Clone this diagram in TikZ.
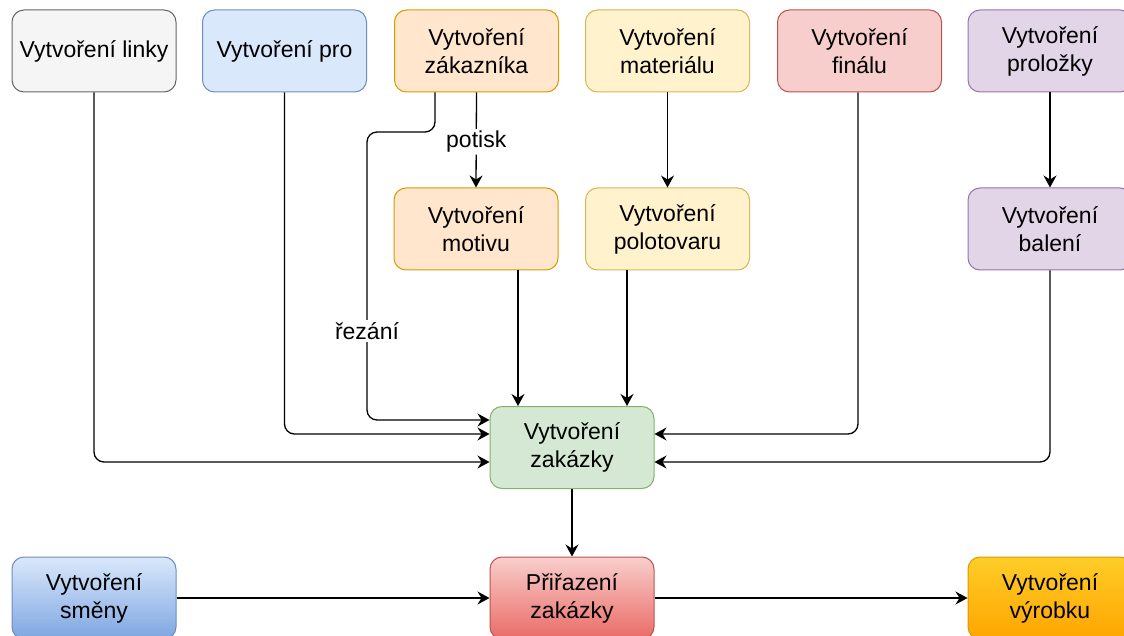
\documentclass[tikz,border=0pt]{standalone}
\usepackage{fontspec}
\setmainfont{Liberation Sans}
\usetikzlibrary{arrows.meta}
\definecolor{grayF}{HTML}{F5F5F5}\definecolor{grayS}{HTML}{666666}
\definecolor{blueF}{HTML}{DAE8FC}\definecolor{blueS}{HTML}{6C8EBF}\definecolor{blueB}{HTML}{7EA6E0}
\definecolor{orF}{HTML}{FFE6CC}\definecolor{orS}{HTML}{D79B00}
\definecolor{yeF}{HTML}{FFF2CC}\definecolor{yeS}{HTML}{D6B656}
\definecolor{reF}{HTML}{F8CECC}\definecolor{reS}{HTML}{B85450}\definecolor{reB}{HTML}{EA6B66}
\definecolor{puF}{HTML}{E1D5E7}\definecolor{puS}{HTML}{9673A6}
\definecolor{grF}{HTML}{D5E8D4}\definecolor{grS}{HTML}{82B366}
\definecolor{goT}{HTML}{FFCD28}\definecolor{goB}{HTML}{FFA500}
\begin{document}
\begin{tikzpicture}[x=1pt,y=-1pt,
  box/.style={draw, rounded corners=12pt, line width=1pt, minimum width=164pt, minimum height=82pt, align=center, inner sep=0pt, font=\fontsize{23}{28}\selectfont, text=black},
  arr/.style={-{Stealth[length=12pt,width=13pt,inset=4pt]}, line width=1.3pt, rounded corners=10pt, draw=black},
  lbl/.style={fill=white, inner sep=2pt, font=\fontsize{23}{28}\selectfont, text=black}]
\useasboundingbox (0,0) rectangle (1124,636);
% top row
\node[box, fill=grayF, draw=grayS] (linky) at (94,51) {Vytvoření linky};
\node[box, fill=blueF, draw=blueS] (pro) at (284.5,51) {Vytvoření pro};
\node[box, fill=orF, draw=orS] (zak) at (476.5,51) {Vytvoření\\zákazníka};
\node[box, fill=yeF, draw=yeS] (mat) at (667.5,51) {Vytvoření\\materiálu};
\node[box, fill=reF, draw=reS] (fin) at (859.5,51) {Vytvoření\\finálu};
\node[box, fill=puF, draw=puS] (prol) at (1050,51) {Vytvoření\\proložky};
% second row
\node[box, fill=orF, draw=orS] (mot) at (476,229) {Vytvoření\\motivu};
\node[box, fill=yeF, draw=yeS] (pol) at (667.5,229) {Vytvoření\\polotovaru};
\node[box, fill=puF, draw=puS] (bal) at (1050,229) {Vytvoření\\balení};
% center
\node[box, fill=grF, draw=grS] (zakazky) at (572,447.5) {Vytvoření\\zakázky};
% bottom row
\node[box, top color=blueF, bottom color=blueB, draw=blueS] (smeny) at (94,598) {Vytvoření\\směny};
\node[box, top color=reF, bottom color=reB, draw=reS] (prir) at (572,598) {Přiřazení\\zakázky};
\node[box, top color=goT, bottom color=goB, draw=orS] (vyr) at (1050,598) {Vytvoření\\výrobku};
% connectors
\draw[arr] (linky.south) |- ([yshift=-14.5pt]zakazky.west);
\draw[arr] (pro.south) |- ([yshift=13.5pt]zakazky.west);
\coordinate (bend) at (367,132);
\draw[arr] ([xshift=-41.5pt]zak.south) |- (bend) |- ([yshift=27.5pt]zakazky.west);
\node[lbl] (rez) at (367,331) {řezání};
\draw[arr] (zak.south) -- node[lbl, pos=0.52] (pot) {potisk} (mot.north);
\draw[arr] (mat.south) -- (pol.north);
\draw[arr] ([xshift=42pt]mot.south) -- ([xshift=42pt]mot.south |- zakazky.north);
\draw[arr] ([xshift=-40.5pt]pol.south) -- ([xshift=-40.5pt]pol.south |- zakazky.north);
\draw[arr] ([xshift=-1.5pt]fin.south) |- ([yshift=13.5pt]zakazky.east);
\draw[arr] (prol.south) -- (bal.north);
\draw[arr] (bal.south) |- ([yshift=-14.5pt]zakazky.east);
\draw[arr] (zakazky.south) -- (prir.north);
\draw[arr] (smeny.east) -- (prir.west);
\draw[arr] (prir.east) -- (vyr.west);
\end{tikzpicture}
\end{document}
